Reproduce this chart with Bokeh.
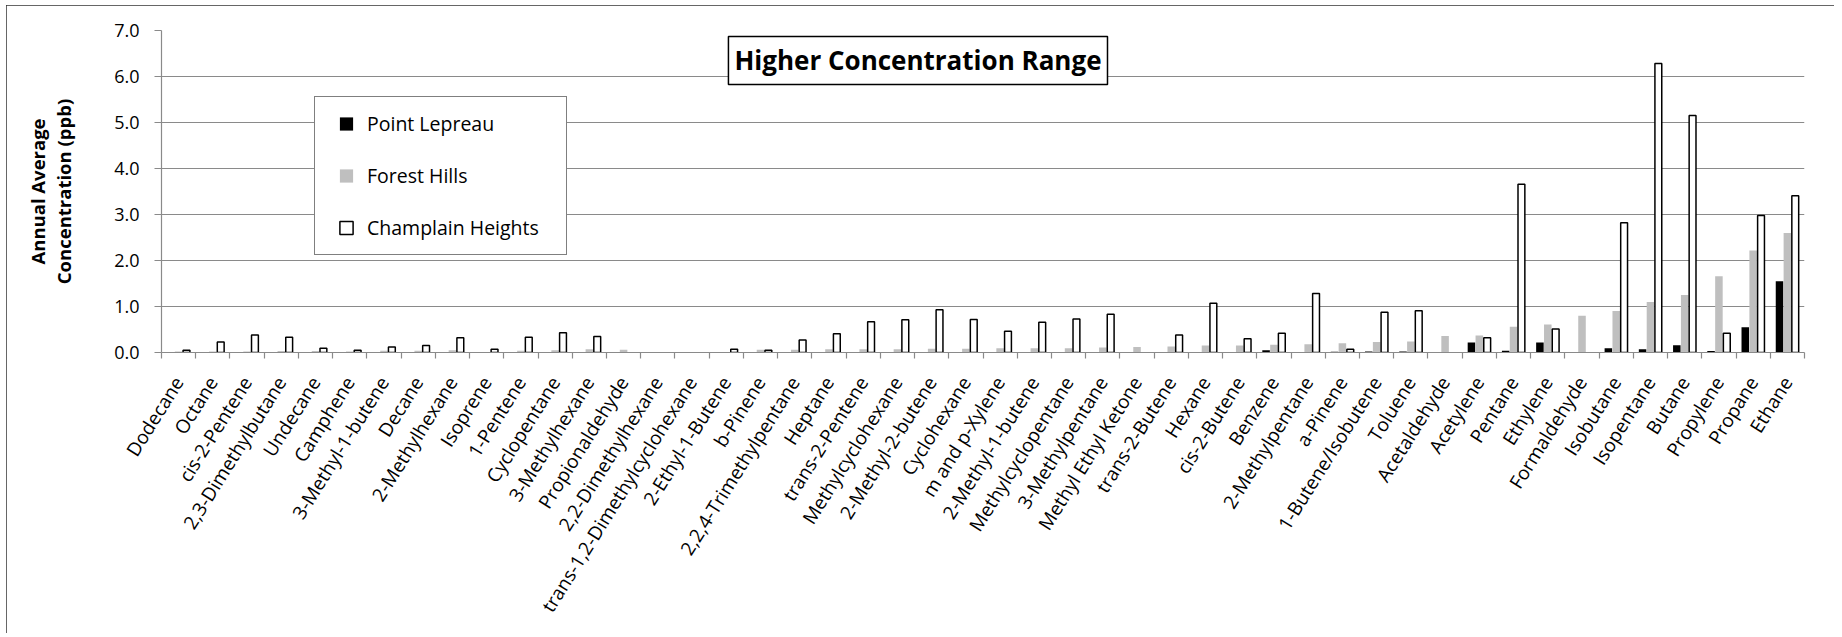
from bokeh.plotting import figure
from bokeh.models import (Range1d, LinearAxis, FixedTicker, NumeralTickFormatter, Legend,
                          LegendItem, Label, ColumnDataSource)
from bokeh.transform import dodge
from bokeh.embed import file_html
from bokeh.resources import INLINE

NAN = float("nan")

compounds = [
    "Dodecane", "Octane", "cis-2-Pentene", "2,3-Dimethylbutane", "Undecane", "Camphene",
    "3-Methyl-1-butene", "Decane", "2-Methylhexane", "Isoprene", "1-Pentene", "Cyclopentane",
    "3-Methylhexane", "Propionaldehyde", "2,2-Dimethylhexane", "trans-1,2-Dimethylcyclohexane",
    "2-Ethyl-1-Butene", "b-Pinene", "2,2,4-Trimethylpentane", "Heptane", "trans-2-Pentene",
    "Methylcyclohexane", "2-Methyl-2-butene", "Cyclohexane", "m and p-Xylene", "2-Methyl-1-butene",
    "Methylcyclopentane", "3-Methylpentane", "Methyl Ethyl Ketone", "trans-2-Butene", "Hexane",
    "cis-2-Butene", "Benzene", "2-Methylpentane", "a-Pinene", "1-Butene/Isobutene", "Toluene",
    "Acetaldehyde", "Acetylene", "Pentane", "Ethylene", "Formaldehyde", "Isobutane", "Isopentane",
    "Butane", "Propylene", "Propane", "Ethane",
]

point_lepreau = [
    NAN, NAN, NAN, NAN, NAN, NAN, NAN, NAN, NAN, 0.01, NAN, NAN,
    NAN, NAN, NAN, NAN, NAN, NAN, NAN, NAN, NAN, NAN, NAN, NAN,
    NAN, NAN, NAN, NAN, NAN, NAN, 0.01, NAN, 0.05, NAN, 0.015, 0.02,
    0.02, NAN, 0.22, 0.04, 0.22, NAN, 0.09, 0.07, 0.16, 0.03, 0.55, 1.55,
]

forest_hills = [
    0.02, 0.02, 0.02, 0.03, 0.03, 0.02, 0.04, 0.04, 0.05, 0.01, 0.04, 0.05,
    0.07, 0.06, NAN, NAN, 0.01, 0.06, 0.06, 0.07, 0.07, 0.07, 0.08, 0.08,
    0.09, 0.09, 0.09, 0.11, 0.12, 0.13, 0.15, 0.15, 0.17, 0.18, 0.20, 0.23,
    0.24, 0.36, 0.37, 0.56, 0.61, 0.80, 0.90, 1.10, 1.25, 1.66, 2.22, 2.60,
]

champlain_heights = [
    0.05, 0.23, 0.38, 0.33, 0.09, 0.05, 0.12, 0.15, 0.32, 0.07, 0.33, 0.43,
    0.35, NAN, NAN, NAN, 0.07, 0.05, 0.27, 0.41, 0.67, 0.71, 0.93, 0.72,
    0.46, 0.66, 0.73, 0.83, NAN, 0.38, 1.07, 0.30, 0.42, 1.28, 0.07, 0.875,
    0.91, NAN, 0.32, 3.66, 0.51, NAN, 2.82, 6.28, 5.15, 0.42, 2.98, 3.41,
]

y_ticks = [0, 1, 2, 3, 4, 5, 6, 7]

series_names = ["Point Lepreau", "Forest Hills", "Champlain Heights"]

FONT = "Open Sans"
GRID = "#8a8a8a"

n = len(compounds)
slots = [i + 0.5 for i in range(n)]          # category centres on a numeric scale
bounds = list(range(n + 1))                  # category boundaries (tick marks)
src = ColumnDataSource(dict(compound=compounds, slot=slots, pl=point_lepreau,
                            fh=forest_hills, ch=champlain_heights))

p = figure(x_range=Range1d(0, n), y_range=Range1d(0, 7), width=1828, height=628,
           output_backend="svg", toolbar_location=None, x_axis_location=None,
           min_border_left=155, min_border_right=30, min_border_top=25, min_border_bottom=281)
p.margin = (5, 0, 0, 6)
p.outline_line_color = None
p.background_fill_color = "white"
p.border_fill_color = "white"
p.styles = {"outline": "1.5px solid #333333", "outline-offset": "-1.5px"}

# X axis: labels at category centres, tick marks (minor) at the boundaries
xax = LinearAxis(ticker=FixedTicker(ticks=slots, minor_ticks=bounds),
                 major_label_overrides={s: c for s, c in zip(slots, compounds)},
                 major_tick_out=6, major_tick_in=0, major_tick_line_color=None,
                 minor_tick_out=6, minor_tick_in=0, minor_tick_line_color=GRID,
                 minor_tick_line_width=1.2,
                 axis_line_color=GRID, axis_line_width=1.2,
                 major_label_orientation=1.01, major_label_standoff=20,
                 major_label_text_font=FONT, major_label_text_font_size="19px",
                 major_label_text_color="black")
p.add_layout(xax, "below")

yax = p.yaxis[0]
yax.ticker = FixedTicker(ticks=y_ticks)
yax.formatter = NumeralTickFormatter(format="0.0")
yax.major_label_text_font = FONT
yax.major_label_text_font_size = "18px"
yax.major_label_text_color = "black"
yax.major_label_standoff = 15
yax.major_tick_out = 7
yax.major_tick_in = 0
yax.major_tick_line_color = GRID
yax.major_tick_line_width = 1.2
yax.minor_tick_line_color = None
yax.axis_line_color = GRID
yax.axis_line_width = 1.2
yax.axis_label = "Annual Average\nConcentration (ppb)"
yax.axis_label_text_font = FONT
yax.axis_label_text_font_size = "18.5px"
yax.axis_label_text_font_style = "bold"
yax.axis_label_text_color = "black"
yax.axis_label_text_line_height = 1.03
yax.axis_label_standoff = 35

p.ygrid.ticker = FixedTicker(ticks=y_ticks)
p.ygrid.grid_line_color = GRID
p.ygrid.grid_line_width = 1.2
p.xgrid.visible = False

# Bars -------------------------------------------------------------
off = 0.23
p.vbar(x=dodge("slot", -off), top="pl", width=0.22, source=src,
       fill_color="black", line_color=None)
p.vbar(x=dodge("slot", 0.0), top="fh", width=0.22, source=src,
       fill_color="#bfbfbf", line_color=None)
p.vbar(x=dodge("slot", off), top="ch", width=0.2, source=src,
       fill_color="white", line_color="black", line_width=1.5)

# legend proxies (zero-size markers, the legend draws its own swatch size)
k_pl = p.scatter(x=dodge("slot", -off), y="pl", source=src, marker="square",
                 size=0, fill_color="black", line_color=None)
k_fh = p.scatter(x=dodge("slot", 0.0), y="fh", source=src, marker="square",
                 size=0, fill_color="#bfbfbf", line_color=None)
k_ch = p.scatter(x=dodge("slot", off), y="ch", source=src, marker="square",
                 size=0, fill_color="white", line_color="black", line_width=1.5)

legend = Legend(items=[LegendItem(label=series_names[0], renderers=[k_pl]),
                       LegendItem(label=series_names[1], renderers=[k_fh]),
                       LegendItem(label=series_names[2], renderers=[k_ch])],
                location=(153, 97), orientation="vertical", padding=10, margin=0,
                spacing=19, glyph_width=42, glyph_height=33, label_standoff=0,
                label_width=189, label_height=20,
                label_text_font=FONT, label_text_font_size="19.5px", label_text_color="black",
                border_line_color="black", border_line_width=1.5,
                background_fill_color="white", background_fill_alpha=1.0)
p.add_layout(legend)

title = Label(x=22.1, y=6.35, text="Higher Concentration Range",
              text_font=FONT, text_font_size="26px", text_font_style="bold", text_color="black",
              text_align="center", text_baseline="middle",
              border_line_color="black", border_line_width=1.5,
              background_fill_color="white", background_fill_alpha=1.0, padding=6)
p.add_layout(title)

open("out.html", "w").write(file_html(p, INLINE))
